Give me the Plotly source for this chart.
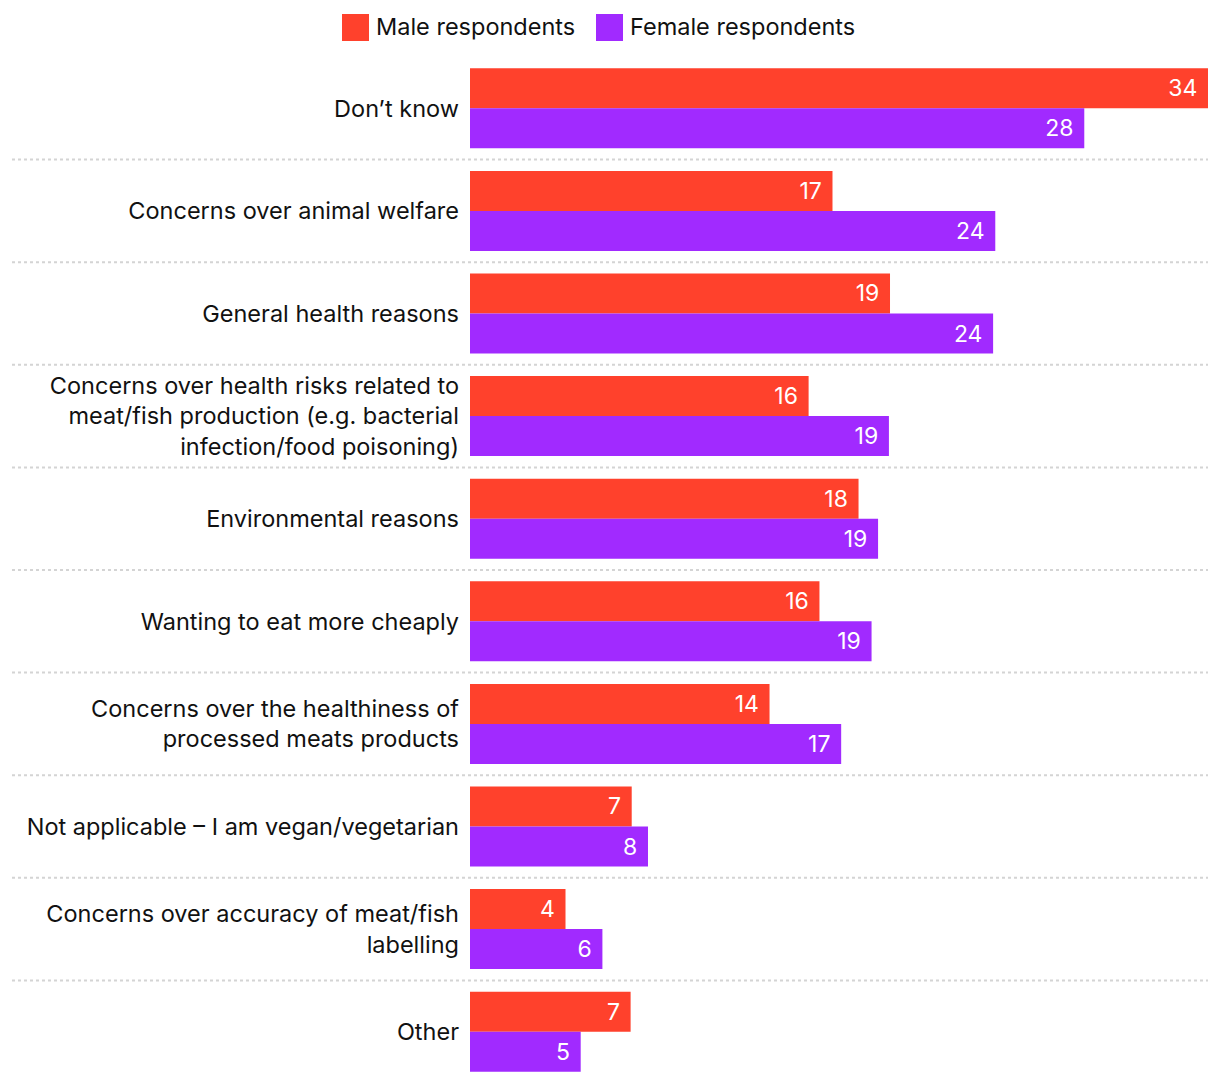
import plotly.graph_objects as go

categories = [
    "Don’t know",
    "Concerns over animal welfare",
    "General health reasons",
    "Concerns over health risks related to<br>meat/fish production (e.g. bacterial<br>infection/food poisoning)",
    "Environmental reasons",
    "Wanting to eat more cheaply",
    "Concerns over the healthiness of<br>processed meats products",
    "Not applicable – I am vegan/vegetarian",
    "Concerns over accuracy of meat/fish<br>labelling",
    "Other",
]
male_values = [34.0, 16.7, 19.35, 15.6, 17.9, 16.1, 13.8, 7.45, 4.4, 7.4]
female_values = [28.3, 24.2, 24.1, 19.3, 18.8, 18.5, 17.1, 8.2, 6.1, 5.1]
male_labels = ["34", "17", "19", "16", "18", "16", "14", "7", "4", "7"]
female_labels = ["28", "24", "24", "19", "19", "19", "17", "8", "6", "5"]
series_names = ["Male respondents", "Female respondents"]

RED = "#FF412C"
PURPLE = "#A12AFF"
FONT = "Inter"
FS = 23.5
FS_VAL = 23

OFF = 8  # page body margin
W, H = 1220 - OFF, 1084 - OFF
ML, MR, MT, MB = 470 - OFF, 12, 57 - OFF, 1
pw = W - ML - MR
ph = H - MT - MB

def px_x(p):  # page pixel -> paper
    return (p - OFF - ML) / pw

def px_y(p):
    return (H - MB - (p - OFF)) / ph

pad = "\u2004"
fig = go.Figure()
fig.add_trace(go.Bar(
    y=categories, x=male_values, orientation="h", name=series_names[0],
    marker=dict(color=RED, line=dict(width=0)),
    text=[t + pad for t in male_labels], textposition="inside", insidetextanchor="end",
    textfont=dict(color="white", size=FS_VAL, family=FONT), constraintext="none",
    showlegend=False, hoverinfo="x+y",
))
fig.add_trace(go.Bar(
    y=categories, x=female_values, orientation="h", name=series_names[1],
    marker=dict(color=PURPLE, line=dict(width=0)),
    text=[t + pad for t in female_labels], textposition="inside", insidetextanchor="end",
    textfont=dict(color="white", size=FS_VAL, family=FONT), constraintext="none",
    showlegend=False, hoverinfo="x+y",
))

shapes = []
for i in range(len(categories) - 1):
    shapes.append(dict(
        type="line", xref="paper", yref="y",
        x0=px_x(12), x1=1, y0=i + 0.5, y1=i + 0.5,
        line=dict(color="#d4d4d4", width=2, dash="dot"),
    ))

# custom legend
annotations = []
legend_items = [(342, 374, RED, series_names[0]), (596, 628, PURPLE, series_names[1])]
for bx, tx, col, name in legend_items:
    shapes.append(dict(
        type="rect", xref="paper", yref="paper",
        x0=px_x(bx), x1=px_x(bx + 27), y0=px_y(41), y1=px_y(14),
        fillcolor=col, line=dict(width=0),
    ))
    annotations.append(dict(
        xref="paper", yref="paper", x=px_x(tx), y=px_y(26),
        xanchor="left", yanchor="middle", text=name, showarrow=False,
        font=dict(size=FS, color="#111111", family=FONT),
    ))

fig.update_layout(
    width=W, height=H,
    margin=dict(l=ML, r=MR, t=MT, b=MB, autoexpand=False),
    barmode="group", bargap=0.22, bargroupgap=0,
    plot_bgcolor="white", paper_bgcolor="white",
    font=dict(family=FONT, size=FS, color="#111111"),
    shapes=shapes, annotations=annotations,
    showlegend=False,
)
fig.update_xaxes(range=[0, 34.0], visible=False, showgrid=False, zeroline=False)
fig.update_yaxes(autorange="reversed", showgrid=False, zeroline=False, showline=False,
                 ticks="", ticklabelstandoff=10,
                 tickfont=dict(size=FS, family=FONT, color="#111111"))

fig.write_html("out.html")
